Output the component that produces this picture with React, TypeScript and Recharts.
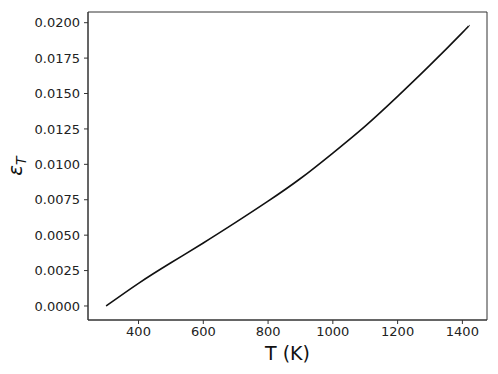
import React from 'react';
import { LineChart, Line, XAxis, YAxis, ReferenceArea, Label } from 'recharts';

// temperature (K) and thermal strain
const temps = [300, 400, 500, 600, 700, 800, 900, 1000, 1100, 1200, 1300, 1400, 1420];
const strain = [0, 0.0016, 0.00305, 0.00445, 0.0059, 0.0074, 0.009, 0.0108, 0.0127, 0.0148, 0.017, 0.0193, 0.0198];

const xTicks = [400, 600, 800, 1000, 1200, 1400];
const yTicks = [0, 0.0025, 0.005, 0.0075, 0.01, 0.0125, 0.015, 0.0175, 0.02];

const xDomain: [number, number] = [244, 1476];
const yDomain: [number, number] = [-0.00099, 0.020755];

const data = temps.map((t, i) => ({ t, eps: strain[i] }));

const FONT = 'DejaVu Sans';
const AXIS = '#333333';

const EpsLabel = (props: any) => {
  const { viewBox } = props;
  const cx = 22;
  const cy = viewBox.y + viewBox.height / 2;
  return (
    <text
      x={cx}
      y={cy}
      transform={`rotate(-90, ${cx}, ${cy})`}
      textAnchor="middle"
      fontFamily={FONT}
      fontSize={20}
      fill="#111"
    >
      <tspan fontStyle="italic">ε</tspan>
      <tspan fontStyle="italic" fontSize={14} dy={4}>T</tspan>
    </text>
  );
};

const App = () => {
  return (
    <div style={{ position: 'absolute', left: 0, top: 0, background: '#fff' }}>
      <LineChart
        width={498}
        height={374}
        data={data}
        margin={{ top: 12, right: 11, left: 0, bottom: 0 }}
      >
        <XAxis
          dataKey="t"
          type="number"
          domain={xDomain}
          ticks={xTicks}
          allowDataOverflow
          height={54}
          tickSize={4}
          tickMargin={3}
          stroke={AXIS}
          tick={{ fill: '#222', fontSize: 13, fontFamily: FONT }}
        >
          <Label
            value="T (K)"
            position="insideBottom"
            offset={14}
            style={{ fontSize: 19, fontFamily: FONT, fill: '#111' }}
          />
        </XAxis>
        <YAxis
          type="number"
          domain={yDomain}
          ticks={yTicks}
          allowDataOverflow
          width={88}
          tickSize={4}
          tickMargin={4}
          stroke={AXIS}
          tickFormatter={(v: number) => v.toFixed(4)}
          tick={{ fill: '#222', fontSize: 13, fontFamily: FONT }}
        >
          <Label content={<EpsLabel />} />
        </YAxis>
        <ReferenceArea
          x1={xDomain[0]}
          x2={xDomain[1]}
          y1={yDomain[0]}
          y2={yDomain[1]}
          fill="none"
          stroke={AXIS}
          strokeWidth={1}
          ifOverflow="visible"
        />
        <Line
          type="natural"
          dataKey="eps"
          stroke="#111111"
          strokeWidth={1.6}
          dot={false}
          isAnimationActive={false}
        />
      </LineChart>
    </div>
  );
};

export default App;
